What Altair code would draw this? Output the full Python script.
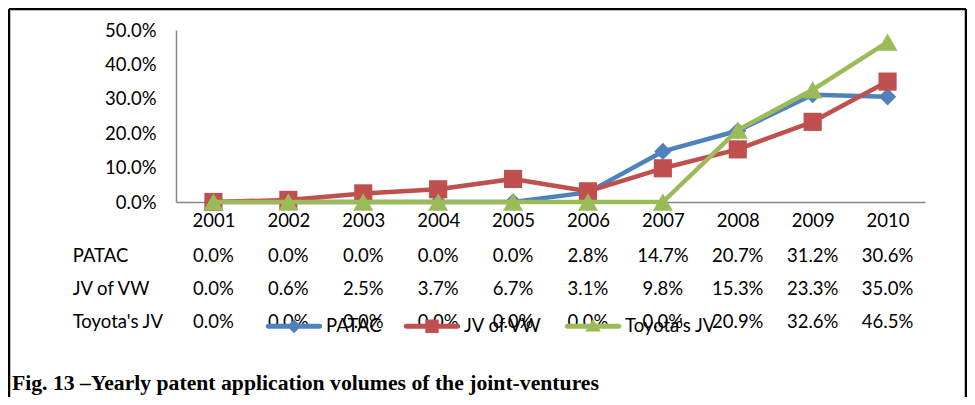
import altair as alt
import pandas as pd

years = ["2001", "2002", "2003", "2004", "2005", "2006", "2007", "2008", "2009", "2010"]
series = ["PATAC", "JV of VW", "Toyota's JV"]
patac = [0.0, 0.0, 0.0, 0.0, 0.0, 2.8, 14.7, 20.7, 31.2, 30.6]
jv_vw = [0.0, 0.6, 2.5, 3.7, 6.7, 3.1, 9.8, 15.3, 23.3, 35.0]
toyota = [0.0, 0.0, 0.0, 0.0, 0.0, 0.0, 0.0, 20.9, 32.6, 46.5]
y_ticks = [0.0, 0.1, 0.2, 0.3, 0.4, 0.5]
caption = "Fig. 13 \u2013Yearly patent application volumes of the joint-ventures"

colors = ["#4F81BD", "#C0504D", "#9BBB59"]
shapes = ["diamond", "square", "triangle-up"]
sizes = [300, 330, 400]
row_y = [231.7, 265, 298.3]

FONT = "Lato"
FS = 18.5

rows = []
for s, vals in zip(series, [patac, jv_vw, toyota]):
    for yr, v in zip(years, vals):
        rows.append({"year": yr, "series": s, "value": v / 100.0})
df = pd.DataFrame(rows)

bar = "M-0.92,-0.09H0.92A0.09,0.09 0 0 1 0.92,0.09H-0.92A0.09,0.09 0 0 1 -0.92,-0.09Z"
legend_paths = [
    bar + "M0,-0.25L0.25,0L0,0.25L-0.25,0Z",
    bar + "M-0.24,-0.24H0.24V0.24H-0.24Z",
    bar + "M0,-0.26L0.28,0.19L-0.28,0.19Z",
]

legend = alt.Legend(
    orient="none", legendX=90, legendY=268, direction="horizontal", title=None,
    padding=0, symbolSize=3136, symbolStrokeWidth=0, symbolOpacity=1,
    columnPadding=21,
    labelFont=FONT, labelFontSize=FS, labelColor="#000000", labelOffset=4,
    labelLimit=300,
)

color = alt.Color("series:N", scale=alt.Scale(domain=series, range=colors), legend=legend)

x_axis = alt.Axis(labelAngle=0, ticks=False, tickSize=0, labelPadding=9,
                  labelFont=FONT, labelFontSize=FS, labelColor="#000000",
                  domainColor="#868686", domainWidth=1.5, grid=False,
                  labelBaseline="top")
x_enc = alt.X("year:O", scale=alt.Scale(domain=years), title=None, axis=x_axis)
y_enc = alt.Y(
    "value:Q", scale=alt.Scale(domain=[0, 0.5], nice=False), title=None,
    axis=alt.Axis(format=".1%", values=y_ticks, ticks=False, tickSize=0,
                  labelPadding=20, labelFont=FONT, labelFontSize=FS,
                  labelColor="#000000", domainColor="#868686", domainWidth=1.5,
                  grid=False),
)

layers = []
for i, s in enumerate(series):
    sd = df[df["series"] == s]
    base = alt.Chart(sd)
    layers.append(base.mark_line(strokeWidth=4.5, strokeJoin="round", strokeCap="round").encode(
        x=x_enc, y=y_enc, color=color))
    layers.append(base.mark_point(shape=shapes[i], filled=True, size=sizes[i], opacity=1).encode(
        x=x_enc, y=y_enc, color=color))

# legend-only layer (no data rows drawn)
layers.append(alt.Chart(df).transform_filter("datum.value < -1").mark_point(
    filled=True, opacity=1).encode(
    x=x_enc, y=y_enc, color=color,
    shape=alt.Shape("series:N", scale=alt.Scale(domain=series, range=legend_paths), legend=legend)))

for i, s in enumerate(series):
    sd = df[df["series"] == s]
    layers.append(alt.Chart(sd).mark_text(font=FONT, fontSize=FS, color="#000000",
                                          align="center", baseline="alphabetic").encode(
        x=x_enc, y=alt.value(row_y[i]), text=alt.Text("value:Q", format=".1%")))
    layers.append(alt.Chart(pd.DataFrame({"name": [s]})).mark_text(
        font=FONT, fontSize=FS, color="#000000", align="left", baseline="alphabetic").encode(
        x=alt.value(-103.3), y=alt.value(row_y[i]), text="name:N"))

layers.append(alt.Chart(pd.DataFrame({"t": [caption]})).mark_text(
    font="Liberation Serif", fontSize=21.7, fontWeight="bold", color="#000000",
    align="left", baseline="alphabetic").encode(
    x=alt.value(-164), y=alt.value(360), text="t:N"))

frame = alt.Chart(pd.DataFrame({"a": [0]}))
layers.append(frame.mark_rule(color="#000000", strokeWidth=2.5).encode(
    x=alt.value(-167), y=alt.value(-21), y2=alt.value(367)))
layers.append(frame.mark_rule(color="#000000", strokeWidth=2.5).encode(
    x=alt.value(790), y=alt.value(-21), y2=alt.value(367)))
layers.append(frame.mark_rule(color="#000000", strokeWidth=2.5).encode(
    x=alt.value(-167), x2=alt.value(790), y=alt.value(-21)))

chart = alt.layer(*layers).properties(
    width=749, height=172,
    padding={"left": 168, "top": 22, "right": 42, "bottom": 195},
    autosize=alt.AutoSizeParams(type="none"),
    background="white",
).configure_view(stroke=None)

chart.save("out.html", embed_options={"renderer": "svg", "actions": False})
